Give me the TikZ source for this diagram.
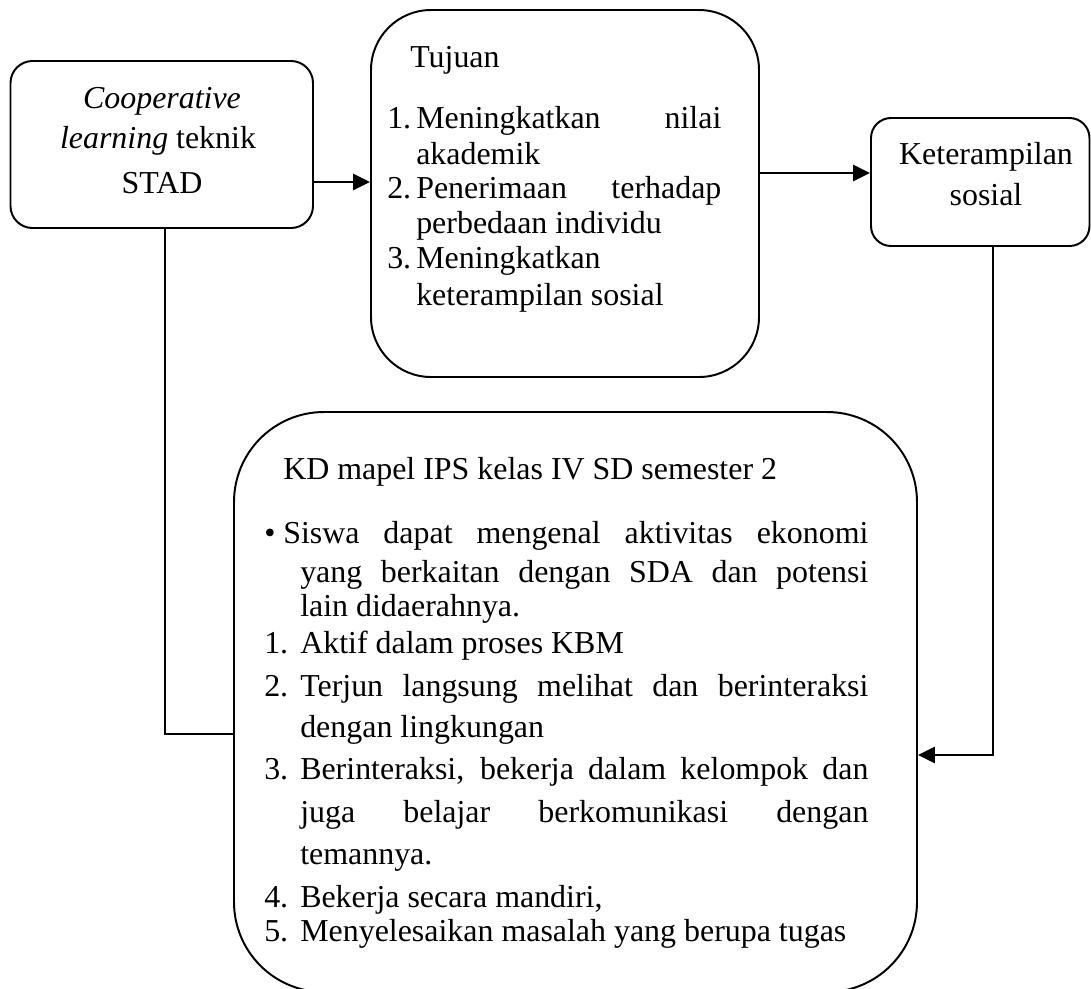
\documentclass[tikz,border=0pt]{standalone}
\usepackage{fontspec}
\setmainfont{Liberation Serif}
\usetikzlibrary{arrows.meta,fit}
\begin{document}
\begin{tikzpicture}[x=0.025cm,y=-0.025cm,
  box/.style={draw, line width=1.4pt, inner sep=0pt},
  conn/.style={line width=1.7pt},
  arr/.style={conn, -{Triangle[length=0.42cm,width=0.4cm]}},
  txt/.style={anchor=base west, inner sep=0pt, font=\fontsize{22.7pt}{27pt}\selectfont},
  ctr/.style={anchor=base, inner sep=0pt, font=\fontsize{22.7pt}{27pt}\selectfont}]
\useasboundingbox (0,0) rectangle (1091,988);
\clip (0,0) rectangle (1091,988);
% boxes
\node[box, rounded corners=0.55cm, fit={(10.5,61) (313,228)}] (coop) {};
\node[box, rounded corners=1.5cm, fit={(371,10) (759,377)}] (tuj) {};
\node[box, rounded corners=0.5cm, fit={(871,118) (1089.5,246)}] (ket) {};
\node[box, rounded corners=2.25cm, fit={(234,412) (917,992)}] (kd) {};
% helper coordinates
\coordinate (y1) at (0,182);
\coordinate (y2) at (0,173);
\coordinate (y3) at (0,734);
\coordinate (y4) at (0,755);
\coordinate (x3) at (165,0);
\coordinate (x4) at (993,0);
% connectors
\draw[arr] (coop.east |- y1) -- (tuj.west |- y1);
\draw[arr] (tuj.east |- y2) -- (ket.west |- y2);
\draw[conn] (coop.south -| x3) |- (kd.west |- y3);
\draw[arr] (ket.south -| x4) |- (kd.east |- y4);
% box 1 text
\node[ctr] (c1) at (162,108) {\itshape Cooperative};
\node[ctr] (c2) at (158,148) {\textit{learning} teknik};
\node[ctr] (c3) at (162,193) {STAD};
% box 2 text
\node[txt] (t0) at (410,67) {Tujuan};
\node[txt] (t1n) at (387,128) {1.};
\node[txt] (t1) at (416,128) {\makebox[7.625cm][s]{Meningkatkan nilai}};
\node[txt] (t1b) at (416,164) {akademik};
\node[txt] (t2n) at (387,198) {2.};
\node[txt] (t2) at (416,198) {\makebox[7.625cm][s]{Penerimaan terhadap}};
\node[txt] (t2b) at (416,233) {perbedaan individu};
\node[txt] (t3n) at (387,268) {3.};
\node[txt] (t3) at (416,268) {Meningkatkan};
\node[txt] (t3b) at (416,305) {keterampilan sosial};
% box 3 text
\node[ctr] (k1) at (986,164) {Keterampilan};
\node[ctr] (k2) at (986,205) {sosial};
% box 4 text
\node[txt] (d0) at (283,479) {KD mapel IPS kelas IV SD semester 2};
\node[ctr] (db) at (270,543) {\textbullet};
\node[txt] (d1) at (283,543) {\makebox[14.625cm][s]{Siswa dapat mengenal aktivitas ekonomi}};
\node[txt] (d1b) at (300,582) {\makebox[14.2cm][s]{yang berkaitan dengan SDA dan potensi}};
\node[txt] (d1c) at (300,616) {lain didaerahnya.};
\node[txt] (n1) at (264,653) {1.};
\node[txt] (e1) at (300,653) {Aktif dalam proses KBM};
\node[txt] (n2) at (264,696) {2.};
\node[txt] (e2) at (300,696) {\makebox[14.2cm][s]{Terjun langsung melihat dan berinteraksi}};
\node[txt] (e2b) at (300,737) {dengan lingkungan};
\node[txt] (n3) at (264,779) {3.};
\node[txt] (e3) at (300,779) {\makebox[14.2cm][s]{Berinteraksi, bekerja dalam kelompok dan}};
\node[txt] (e3b) at (300,822) {\makebox[14.2cm][s]{juga belajar berkomunikasi dengan}};
\node[txt] (e3c) at (300,864) {temannya.};
\node[txt] (n4) at (264,907) {4.};
\node[txt] (e4) at (300,907) {Bekerja secara mandiri,};
\node[txt] (n5) at (264,941) {5.};
\node[txt] (e5) at (300,941) {Menyelesaikan masalah yang berupa tugas};
\end{tikzpicture}
\end{document}
